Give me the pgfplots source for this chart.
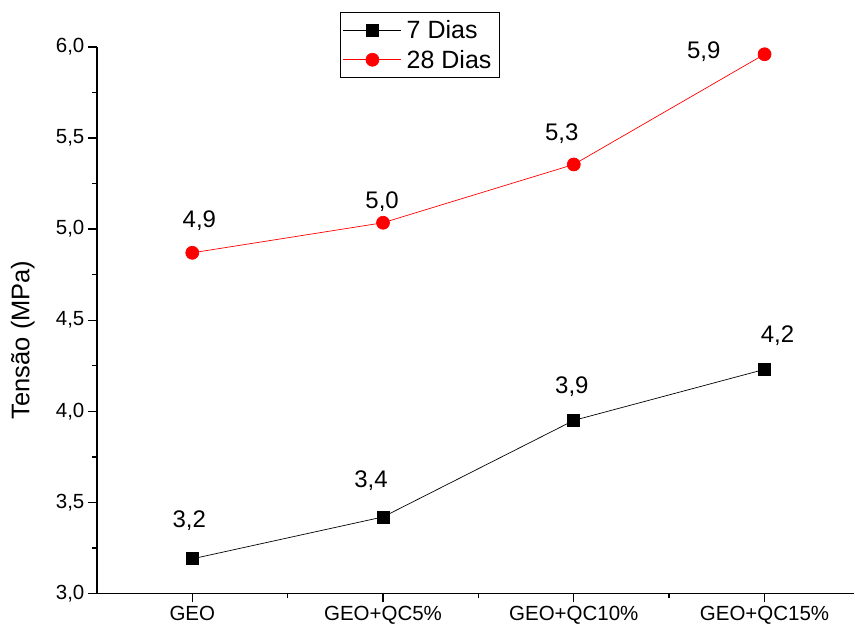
\documentclass[border=0pt]{standalone}
\usepackage{fontspec}
\setmainfont{Liberation Sans}
\usepackage{pgfplots}
\pgfplotsset{compat=1.18}
\begin{document}
\begin{tikzpicture}
\path (-97pt,-36pt) rectangle (758pt,594pt);
\begin{axis}[
  at={(0,0)}, anchor=south west,
  scale only axis, width=758pt, height=547pt,
  xmin=-0.5, xmax=3.47, ymin=3, ymax=6,
  axis x line*=bottom, axis y line*=left,
  axis line style={line width=1.6pt, -},
  xtick={0,1,2,3},
  xticklabels={GEO, GEO+QC5\%, GEO+QC10\%, GEO+QC15\%},
  minor xtick={0.5,1.5,2.5},
  ytick={3,3.5,4,4.5,5,5.5,6},
  minor ytick={3.25,3.75,4.25,4.75,5.25,5.75},
  yticklabel style={/pgf/number format/.cd, fixed, fixed zerofill, precision=1, use comma, assume math mode=true},
  tick align=outside,
  major tick length=9pt, minor tick length=5pt,
  every tick/.style={black, line width=1.4pt},
  tick label style={font=\fontsize{20.5}{24}\selectfont},
  ylabel={Tensão (MPa)},
  every axis y label/.style={at={(axis description cs:-0.098,0.464)}, anchor=center, rotate=90, font=\fontsize{25.5}{30}\selectfont},
  clip=false,
  legend style={at={(axis description cs:0.3206,1.064)}, anchor=north west, draw=black, line width=0.8pt,
    row sep=10pt, inner xsep=3pt, inner ysep=8pt,
    nodes={font=\fontsize{25}{29}\selectfont, inner xsep=5pt, inner ysep=0pt}},
  legend image code/.code={\draw[#1, mark repeat=2, mark phase=2] plot coordinates {(0pt,0pt) (29pt,0pt) (58pt,0pt)};},
  legend cell align=left,
]
\addplot[black, line width=0.7pt, mark=square*, mark size=6pt, mark options={solid, fill=black}] coordinates {(0,3.19) (1,3.42) (2,3.95) (3,4.23)};
\addlegendentry{7 Dias}
\addplot[red, line width=0.7pt, mark=*, mark size=6.5pt, mark options={solid, fill=red}] coordinates {(0,4.87) (1,5.035) (2,5.355) (3,5.96)};
\addlegendentry{28 Dias}
\begin{scope}[every node/.style={font=\fontsize{24}{28}\selectfont}]
\node at (axis cs:0.037,5.046) {4,9};
\node at (axis cs:0.995,5.150) {5,0};
\node at (axis cs:1.937,5.523) {5,3};
\node at (axis cs:2.681,5.973) {5,9};
\node at (axis cs:-0.016,3.400) {3,2};
\node at (axis cs:0.937,3.620) {3,4};
\node at (axis cs:1.99,4.135) {3,9};
\node at (axis cs:3.068,4.415) {4,2};
\end{scope}
\end{axis}
\end{tikzpicture}
\end{document}
